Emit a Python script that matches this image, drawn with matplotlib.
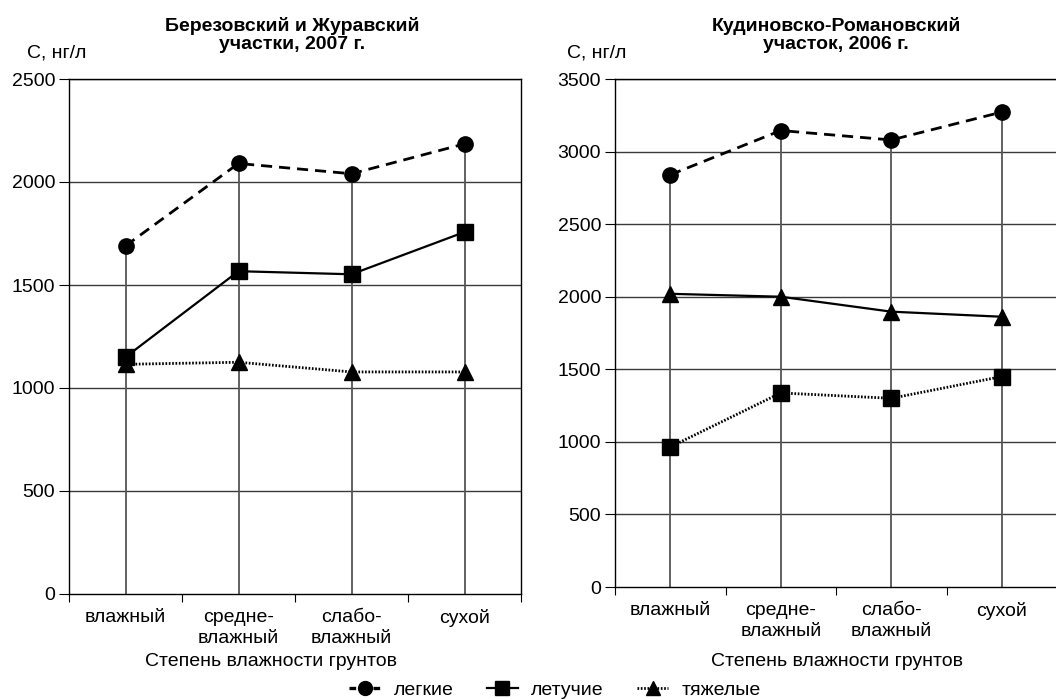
import numpy as np
import matplotlib
matplotlib.use("Agg")
import matplotlib.pyplot as plt
from matplotlib.lines import Line2D

plt.rcParams['font.family'] = ['Liberation Sans', 'DejaVu Sans']

# ---- data ----
categories = ['влажный', 'средне-\nвлажный', 'слабо-\nвлажный', 'сухой']

# Berezovsky & Zhuravsky, 2007
left_legkie = [1690, 2090, 2040, 2185]
left_letuchie = [1150, 1567, 1552, 1757]
left_tyazhelye = [1115, 1125, 1078, 1078]

# Kudinovsko-Romanovsky, 2006
right_legkie = [2840, 3145, 3080, 3272]
right_letuchie = [965, 1337, 1300, 1450]
right_tyazhelye = [2020, 2000, 1897, 1862]

legend_labels = ['легкие', 'летучие', 'тяжелые']

GRID = '#3a3a3a'
DROP = '#555555'
FS = 14

fig = plt.figure(figsize=(10.56, 6.99), dpi=100)


def draw_panel(ax, legkie, letuchie, tyazh, ymax, styles, ylabel_x):
    x = np.arange(len(categories))
    ax.set_xlim(-0.5, len(categories) - 0.5)
    ax.set_ylim(0, ymax)

    # horizontal grid
    for yv in np.arange(500, ymax + 1, 500):
        ax.axhline(yv, color=GRID, lw=1.0, zorder=1)

    # drop lines from highest point to the axis
    tops = np.max([legkie, letuchie, tyazh], axis=0)
    ax.vlines(x, 0, tops, color=DROP, lw=1.3, zorder=2)

    series = [legkie, letuchie, tyazh]
    for vals, (ls, mk, lw) in zip(series, styles):
        ax.plot(x, vals, color='black', ls=ls, lw=lw, marker=mk,
                ms=11 if mk != '^' else 12, zorder=4)

    ax.set_yticks(np.arange(0, ymax + 1, 500))
    ax.tick_params(axis='y', direction='out', length=7, width=0.8, pad=3,
                   labelsize=FS)
    ax.set_xticks(x)
    ax.set_xticklabels(categories, fontsize=FS, linespacing=1.3)
    ax.set_xticks(np.arange(-0.5, len(categories)), minor=True)
    ax.tick_params(axis='x', which='major', length=0, pad=11)
    ax.tick_params(axis='x', which='minor', direction='out', length=6, width=0.8)

    for s in ax.spines.values():
        s.set_color('black')
        s.set_linewidth(1.0)

    fig.text(ylabel_x, 1 - 53 / 699, 'С, нг/л', fontsize=FS, ha='left', va='center')


# line style tuples: (linestyle, marker, linewidth)
dashed = ((0, (4, 2.5)), 'o', 2.0)
solid = ('-', 's', 1.6)
dotted = ((0, (0.6, 0.6)), '^', 2.0)

ax1 = fig.add_axes([69 / 1056, 1 - 594 / 699, 452 / 1056, 515 / 699])
draw_panel(ax1, left_legkie, left_letuchie, left_tyazhelye, 2500,
           [dashed, solid, dotted], 27 / 1056)

ax2 = fig.add_axes([615 / 1056, 1 - 587 / 699, 442 / 1056, 508 / 699])
draw_panel(ax2, right_legkie, right_letuchie, right_tyazhelye, 3500,
           [dashed, ((0, (0.6, 0.6)), 's', 2.0), ('-', '^', 1.6)], 567 / 1056)

# titles
fig.text(292 / 1056, 1 - 35 / 699, 'Березовский и Журавский\nучастки, 2007 г.',
         fontsize=FS, fontweight='bold', ha='center', va='center', linespacing=1.1)
fig.text(836 / 1056, 1 - 35 / 699, 'Кудиновско-Романовский\nучасток, 2006 г.',
         fontsize=FS, fontweight='bold', ha='center', va='center', linespacing=1.1)

# axis titles
fig.text(271 / 1056, 1 - 661 / 699, 'Степень влажности грунтов', fontsize=FS,
         ha='center', va='center')
fig.text(837 / 1056, 1 - 661 / 699, 'Степень влажности грунтов', fontsize=FS,
         ha='center', va='center')

# legend
handles = [
    Line2D([], [], color='black', ls=(0, (2.0, 1.6)), lw=2.4, marker='o', ms=10),
    Line2D([], [], color='black', ls='-', lw=1.6, marker='s', ms=10),
    Line2D([], [], color='black', ls=(0, (0.6, 0.6)), lw=2.0, marker='^', ms=10),
]
fig.legend(handles, legend_labels, loc='center', bbox_to_anchor=(555 / 1056, 1 - 690 / 699),
           ncol=3, frameon=False, fontsize=FS, handlelength=1.6, columnspacing=1.7,
           handletextpad=0.7, borderaxespad=0, borderpad=0)

fig.savefig('out.png', dpi=100)
